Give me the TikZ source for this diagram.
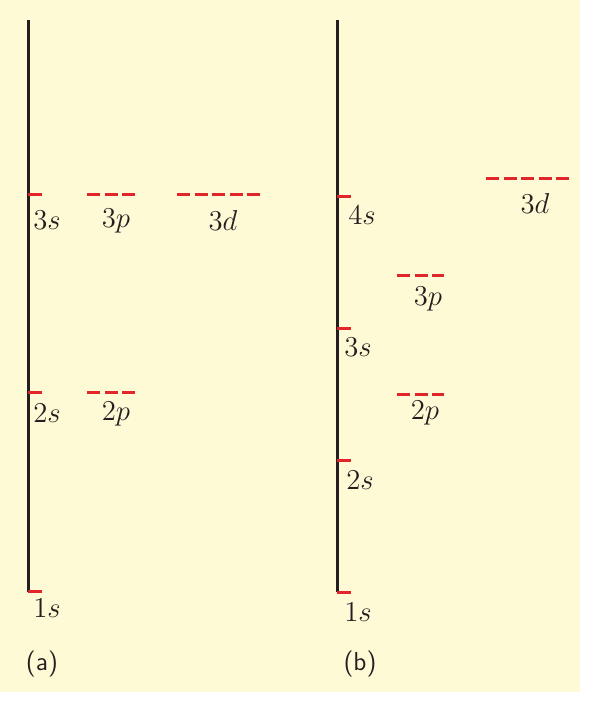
\documentclass[tikz,border=0pt]{standalone}
\usepackage{tikz}
\usetikzlibrary{positioning}
\definecolor{paper}{RGB}{255,250,214}
\definecolor{levred}{RGB}{224,38,43}
\definecolor{ink}{RGB}{35,31,32}

\begin{document}
\begin{tikzpicture}[x=0.5pt,y=-0.5pt,
  axis/.style={draw=ink,line width=1.5pt},
  lev/.style={draw=levred,line width=1.5pt},
  orb/.style={draw=levred,line width=1.5pt,dash pattern=on 6.5pt off 2.25pt},
  lab/.style={text=ink,font=\fontsize{14.5}{17}\selectfont,inner sep=0pt},
  partlab/.style={text=ink,font=\sffamily\fontsize{13}{15}\selectfont,inner sep=0pt}]
\useasboundingbox (0,0) rectangle (605,701);
\fill[paper] (0,0) rectangle (580,692);
% (a) hydrogen
\draw[axis] (28,20) -- (28,592);
\draw[lev] (28,591) -- (42,591);
\draw[lev] (28,392) -- (42,392);
\draw[lev] (28,194) -- (42,194);
\draw[orb] (87,392) -- (135,392);
\draw[orb] (87,194) -- (135,194);
\draw[orb] (177,194) -- (260,194);
\node[lab] (a1s) at (47,608) {$1s$};
\node[lab] (a2s) at (47,413) {$2s$};
\node[lab] (a2p) at (116,414) {$2p$};
\node[lab] (a3s) at (47,220) {$3s$};
\node[lab] (a3p) at (116,221) {$3p$};
\node[lab] (a3d) at (223,220) {$3d$};
\node[partlab] (parta) at (42,664) {(a)};
% (b) multi-electron atom
\draw[axis] (337,20) -- (337,592);
\draw[lev] (337,592) -- (351,592);
\draw[lev] (337,460) -- (351,460);
\draw[lev] (337,328) -- (351,328);
\draw[lev] (337,196) -- (351,196);
\draw[orb] (397,394) -- (444,394);
\draw[orb] (397,275) -- (444,275);
\draw[orb] (486,178) -- (569,178);
\node[lab] (b1s) at (358,612) {$1s$};
\node[lab] (b2s) at (360,480) {$2s$};
\node[lab] (b3s) at (358,347) {$3s$};
\node[lab] (b4s) at (362,215) {$4s$};
\node[lab] (b2p) at (425,413) {$2p$};
\node[lab] (b3p) at (428,299) {$3p$};
\node[lab] (b3d) at (535,203) {$3d$};
\node[partlab] (partb) at (360,664) {(b)};
\end{tikzpicture}
\end{document}
